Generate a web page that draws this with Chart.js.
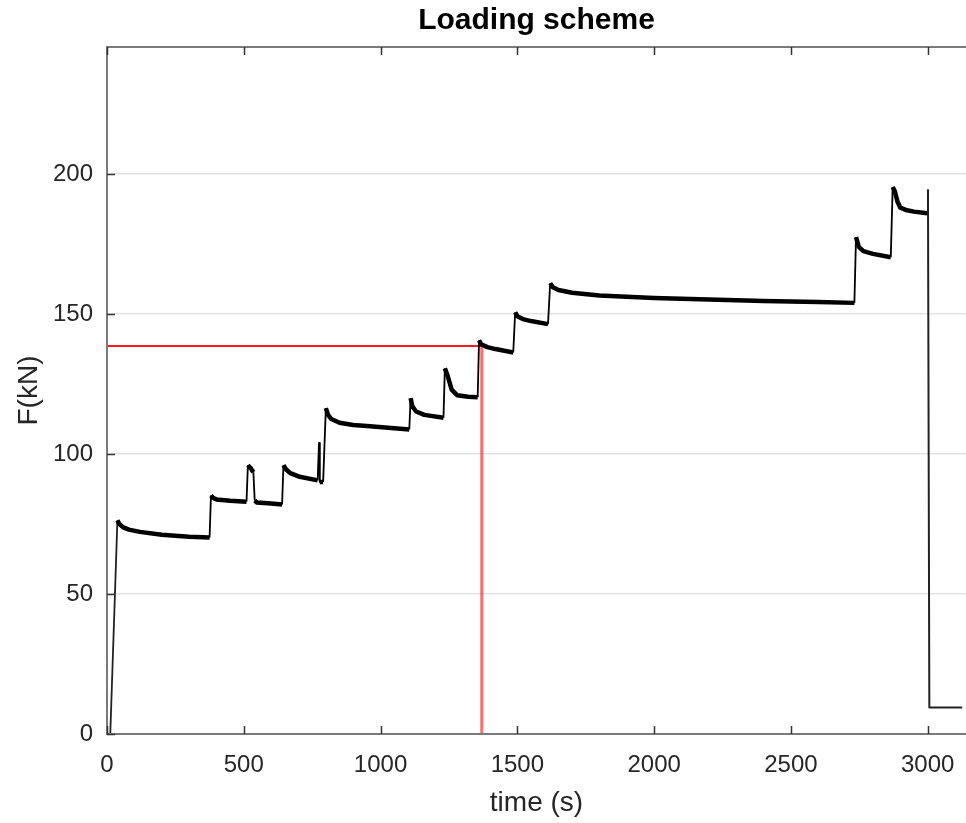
<!DOCTYPE html>
<html>
<head>
<meta charset="utf-8">
<script src="https://cdn.jsdelivr.net/npm/chart.js@4/dist/chart.umd.min.js"></script>
<style>
  html, body { margin: 0; padding: 0; background: #fff; overflow: hidden; }
  #wrap { width: 966px; height: 823px; }
</style>
</head>
<body>
<div id="wrap"><canvas id="c" width="966" height="823"></canvas></div>
<script>
// ---- data ----
const timeS = [12, 38, 45, 60, 80, 120, 200, 300, 375,
  380, 388, 400, 450, 510,
  515, 525, 535, 540, 548, 600, 640,
  645, 655, 670, 700, 770,
  775, 778, 790,
  800, 808, 820, 850, 900, 950, 1050, 1105,
  1110, 1116, 1130, 1160, 1230,
  1235, 1245, 1260, 1280, 1320, 1355,
  1360, 1368, 1390, 1420, 1485,
  1492, 1500, 1520, 1550, 1612,
  1620, 1630, 1650, 1700, 1800, 2000, 2200, 2400, 2600, 2732,
  2738, 2748, 2765, 2800, 2865,
  2872, 2880, 2890, 2900, 2920, 2950, 2998,
  3001, 3006, 3126];
const forceKN = [0, 76.3, 75, 73.8, 73, 72.2, 71.2, 70.5, 70.2,
  85.2, 84.3, 83.8, 83.3, 83,
  96, 95, 93.5, 83.4, 82.7, 82.3, 82,
  96, 94.5, 93.2, 92, 90.6,
  104, 90, 90,
  116.4, 114, 112.5, 111.2, 110.4, 110, 109.2, 108.8,
  120, 117, 115.2, 114, 113,
  130.6, 128, 123, 121, 120.5, 120.3,
  140.6, 139.2, 138.2, 137.5, 136.3,
  150.6, 149.2, 148.2, 147.5, 146.4,
  161, 159.6, 158.6, 157.6, 156.6, 155.7, 155.2, 154.7, 154.3, 154,
  177.5, 174, 172.5, 171.5, 170.3,
  195.4, 193.8, 190, 188, 187.2, 186.6, 186,
  194.5, 9.5, 9.5];
const markerTime = [0, 1370, 1370];
const markerForce = [138.6, 138.6, 0];
const xTicks = [0, 500, 1000, 1500, 2000, 2500, 3000];
const yTicks = [0, 50, 100, 150, 200];
const X_MAX = 3140;
const Y_MAX = 245.4;

const mainPts = timeS.map((t, i) => ({ x: t, y: forceKN[i] }));
const redH = [{ x: markerTime[0], y: markerForce[0] }, { x: markerTime[1], y: markerForce[1] }];
const redV = [{ x: markerTime[1], y: markerForce[1] }, { x: markerTime[2], y: markerForce[2] }];

const FONT = "'Liberation Sans', Arial, Helvetica, sans-serif";

const boxPlugin = {
  id: 'matlabBox',
  afterDatasetsDraw(chart) {
    const { ctx, chartArea: a, scales: { x, y } } = chart;
    ctx.save();
    ctx.strokeStyle = '#7a7a7a';
    ctx.lineWidth = 2;
    ctx.beginPath();
    ctx.moveTo(a.right + 2, a.top);
    ctx.lineTo(a.left, a.top);
    ctx.lineTo(a.left, a.bottom);
    ctx.lineTo(a.right + 2, a.bottom);
    ctx.stroke();
    ctx.strokeStyle = '#333';
    ctx.lineWidth = 1.5;
    ctx.beginPath();
    xTicks.forEach(v => {
      const px = Math.round(x.getPixelForValue(v)) + 0.5;
      ctx.moveTo(px, a.bottom); ctx.lineTo(px, a.bottom - 8);
      ctx.moveTo(px, a.top); ctx.lineTo(px, a.top + 8);
    });
    yTicks.forEach(v => {
      const py = Math.round(y.getPixelForValue(v)) + 0.5;
      ctx.moveTo(a.left, py); ctx.lineTo(a.left + 8, py);
    });
    ctx.stroke();
    ctx.restore();
  }
};

new Chart(document.getElementById('c'), {
  type: 'line',
  data: {
    datasets: [
      {
        data: mainPts,
        borderColor: '#000',
        borderWidth: 4.5,
        pointRadius: 0,
        tension: 0,
        borderJoinStyle: 'round',
        segment: {
          borderWidth: ctx => {
            const p0 = ctx.p0.parsed, p1 = ctx.p1.parsed;
            if (p0.x >= 3001) return 2;
            const dx = Math.abs(p1.x - p0.x), dy = Math.abs(p1.y - p0.y);
            return dy / Math.max(dx, 0.001) > 0.5 ? 1.8 : 4.5;
          },
          borderColor: ctx => (ctx.p0.parsed.x >= 2998 || ctx.p0.parsed.x < 20) ? '#222' : '#000'
        }
      },
      { data: redH, borderColor: '#ff1a1a', borderWidth: 2, pointRadius: 0 },
      { data: redV, borderColor: 'rgba(255,60,60,0.75)', borderWidth: 3, pointRadius: 0 }
    ]
  },
  options: {
    responsive: false,
    animation: false,
    layout: { padding: { left: 0, right: 0, top: 0, bottom: 0 } },
    plugins: {
      legend: { display: false },
      tooltip: { enabled: false },
      title: {
        display: true,
        text: 'Loading scheme',
        fullSize: false,
        color: '#000',
        font: { family: FONT, size: 30, weight: 'bold' },
        padding: { top: 3, bottom: 8 }
      }
    },
    scales: {
      x: {
        type: 'linear',
        min: 0,
        max: X_MAX,
        afterFit: s => { s.height = 89; s.paddingRight = 0; s.paddingLeft = 0; },
        afterBuildTicks: s => { s.ticks = xTicks.map(v => ({ value: v })); },
        ticks: {
          color: '#262626',
          font: { family: FONT, size: 24 },
          padding: 17,
          maxRotation: 0,
          autoSkip: false,
          includeBounds: false,
          callback: v => String(v)
        },
        grid: { display: false, drawTicks: false },
        border: { display: false },
        title: {
          display: true,
          text: 'time (s)',
          color: '#262626',
          font: { family: FONT, size: 28 },
          padding: { top: 0, bottom: 3 }
        }
      },
      y: {
        type: 'linear',
        min: 0,
        max: Y_MAX,
        afterFit: s => { s.width = 107; s.paddingTop = 0; s.paddingBottom = 0; },
        afterBuildTicks: s => { s.ticks = yTicks.map(v => ({ value: v })); },
        ticks: {
          color: '#262626',
          font: { family: FONT, size: 24 },
          padding: 14,
          autoSkip: false,
          includeBounds: false,
          callback: v => String(v)
        },
        grid: { color: '#e3e3e3', lineWidth: 1.5, drawTicks: false },
        border: { display: false },
        title: {
          display: true,
          text: 'F(kN)',
          color: '#262626',
          font: { family: FONT, size: 28 },
          padding: { top: 12, bottom: 0 }
        }
      }
    }
  },
  plugins: [boxPlugin]
});
</script>
</body>
</html>
